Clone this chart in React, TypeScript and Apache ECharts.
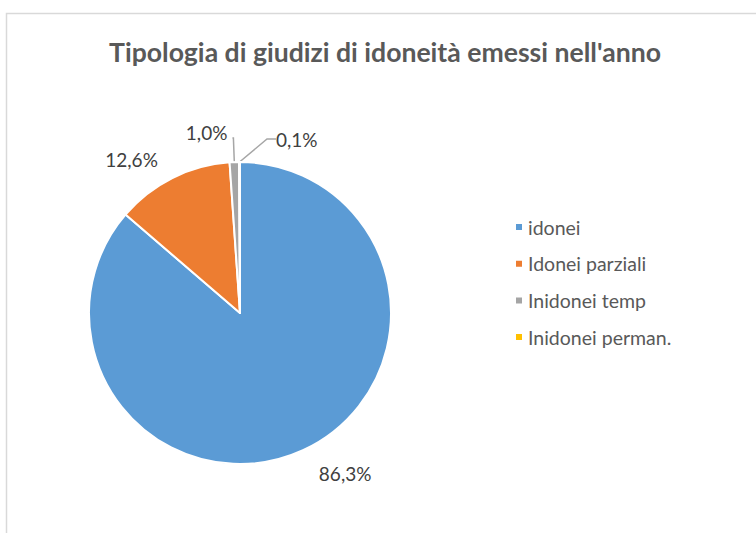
import React, { useEffect, useRef } from "react";
import * as echarts from "echarts";

const categories = ["idonei", "Idonei parziali", "Inidonei temp", "Inidonei perman."];
const values = [86.3, 12.6, 1.0, 0.1];
const colors = ["#5b9bd5", "#ed7d31", "#a5a5a5", "#ffc000"];
const titleText = "Tipologia di giudizi di idoneità emessi nell'anno";

const FONT = "Lato, 'Open Sans', sans-serif";

export default function App() {
  const ref = useRef<HTMLDivElement>(null);
  useEffect(() => {
    document.body.style.margin = "0";
    const chart = echarts.init(ref.current!, null, { renderer: "svg" });
    const labelLens = [
      { length: 26, length2: 0, show: false },
      { length: 21, length2: 0, show: false },
      { length: 24, length2: 1, show: true },
      { length: 19, length2: 9, show: true },
    ];
    chart.setOption({
      animation: false,
      backgroundColor: "#ffffff",
      title: {
        text: titleText,
        left: 380,
        top: 33,
        textAlign: "center",
        textStyle: { fontFamily: FONT, fontSize: 26.6, fontWeight: "bold", color: "#595959" },
      },
      legend: {
        orient: "vertical",
        left: 509,
        top: 212,
        icon: "rect",
        itemWidth: 8,
        itemHeight: 8,
        itemGap: 16.7,
        data: categories,
        textStyle: { fontFamily: FONT, fontSize: 19.5, color: "#595959", lineHeight: 20 },
      },
      graphic: [
        {
          type: "rect",
          shape: { x: 6.5, y: 13.5, width: 800, height: 600 },
          style: { fill: "none", stroke: "#d9d9d9", lineWidth: 1.5 },
          silent: true,
        },
      ],
      series: [
        {
          type: "pie",
          center: [240, 313],
          radius: 151,
          startAngle: 90,
          clockwise: true,
          avoidLabelOverlap: false,
          percentPrecision: 1,
          itemStyle: { borderColor: "#ffffff", borderWidth: 2 },
          label: {
            show: true,
            position: "outside",
            fontFamily: FONT,
            fontSize: 19,
            color: "#404040",
            formatter: (p: any) => p.percent.toFixed(1).replace(".", ",") + "%",
          },
          labelLayout: (p: any) => {
            if (p.dataIndex === 3) {
              return {
                x: p.rect.x + p.rect.width + 35,
                y: p.rect.y - 22,
                align: "left",
                verticalAlign: "middle",
              };
            }
            if (p.dataIndex === 2) return { dy: -6 };
            return {};
          },
          emphasis: { disabled: true },
          data: categories.map((name, i) => ({
            name,
            value: values[i],
            itemStyle: { color: colors[i] },
            labelLine: {
              show: labelLens[i].show,
              length: labelLens[i].length,
              length2: labelLens[i].length2,
              lineStyle: { color: "#a6a6a6", width: 1.5 },
            },
          })),
        },
      ],
    });
    return () => chart.dispose();
  }, []);
  return <div ref={ref} style={{ width: 756, height: 533 }} />;
}
